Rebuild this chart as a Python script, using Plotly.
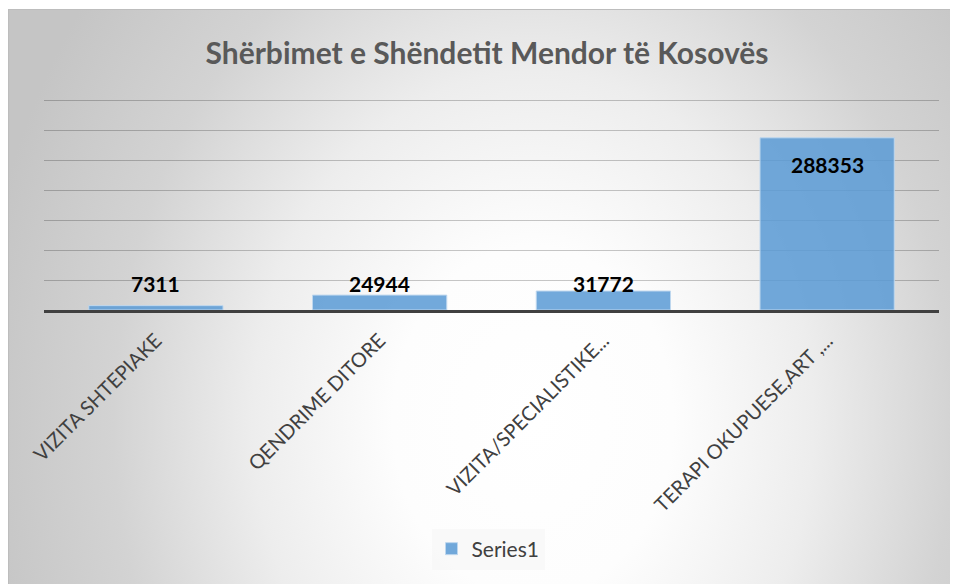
import base64
import plotly.graph_objects as go

# data
categories = ["VIZITA SHTEPIAKE", "QENDRIME DITORE", "VIZITA/SPECIALISTIKE...", "TERAPI OKUPUESE,ART ,..."]
values = [7311, 24944, 31772, 288353]
series_name = "Series1"
title_text = "Shërbimet e Shëndetit Mendor të Kosovës"

# the page puts the figure 8px in from the window corner
OFF = 8
W, H = 950, 576
ML, MR, MT, MB = 36, 19, 90, 274
PW = W - ML - MR
PH = H - MT - MB
LABEL_FONT = dict(family="Lato", size=21, color="black", weight="bold")


def px_to_paper(px, py):
    # page pixel -> paper coordinates of the plot area
    return (px - OFF - ML) / PW, (H - MB - (py - OFF)) / PH


# Excel-like radial grey -> white chart area fill
svg = """<svg xmlns='http://www.w3.org/2000/svg' width='950' height='575' viewBox='0 0 950 575' preserveAspectRatio='none'>
<defs><radialGradient id='g' gradientUnits='userSpaceOnUse' cx='0' cy='0' r='1'
 gradientTransform='translate(525 412) scale(560 700)'>
<stop offset='0' stop-color='#ffffff'/>
<stop offset='0.25' stop-color='#fdfdfd'/>
<stop offset='0.5' stop-color='#ededed'/>
<stop offset='0.75' stop-color='#d3d3d3'/>
<stop offset='1' stop-color='#c5c5c5'/>
</radialGradient></defs>
<rect width='950' height='575' fill='url(#g)'/></svg>"""
bg_src = "data:image/svg+xml;base64," + base64.b64encode(svg.encode()).decode()

bx0, by0 = px_to_paper(8, 9)
bx1, by1 = px_to_paper(958, 584)

inside = [v > 0.5 * max(values) for v in values]

fig = go.Figure()
fig.add_trace(go.Bar(
    x=categories,
    y=values,
    name=series_name,
    marker=dict(color="rgba(91,155,213,0.86)", line=dict(color="rgba(190,215,238,1)", width=1)),
    showlegend=True,
))

# value labels: inside the top of tall bars, just over the baseline for short ones
annotations = []
for c, v, ins in zip(categories, values, inside):
    if ins:
        annotations.append(dict(x=c, y=v, xref="x", yref="y", text=str(v), showarrow=False,
                                yanchor="top", yshift=-12, font=LABEL_FONT))
    else:
        annotations.append(dict(x=c, y=0, xref="x", yref="y", text=str(v), showarrow=False,
                                yanchor="bottom", yshift=12, font=LABEL_FONT))

fig.update_layout(
    width=W, height=H,
    margin=dict(l=ML, r=MR, t=MT, b=MB),
    paper_bgcolor="white",
    plot_bgcolor="rgba(0,0,0,0)",
    bargap=0.4,
    font=dict(family="Lato", color="#404040"),
    title=dict(
        text="<b>" + title_text + "</b>",
        x=(487 - OFF) / W, xref="container", xanchor="center",
        y=1 - (53 - OFF) / H, yref="container", yanchor="middle",
        font=dict(family="Lato", size=30, color="#595959"),
    ),
    xaxis=dict(
        showline=True, linecolor="#404040", linewidth=3,
        showgrid=False, ticks="", tickangle=-45, ticklabelstandoff=8,
        tickfont=dict(family="Lato", size=20, color="#404040"),
    ),
    yaxis=dict(
        range=[0, 355000], dtick=50000, showticklabels=False,
        showgrid=True, gridcolor="rgba(0,0,0,0.22)", gridwidth=1.3, zeroline=False,
    ),
    legend=dict(
        orientation="h", x=px_to_paper(488, 0)[0], xanchor="center",
        y=px_to_paper(0, 549)[1], yanchor="middle",
        bgcolor="rgba(246,246,246,0.7)",
        font=dict(family="Lato", size=21, color="#404040"),
    ),
    annotations=annotations,
    images=[dict(
        source=bg_src, xref="paper", yref="paper",
        x=bx0, y=by0, sizex=bx1 - bx0, sizey=by0 - by1,
        sizing="stretch", layer="below",
    )],
    shapes=[dict(
        type="rect", xref="paper", yref="paper",
        x0=bx0 + 0.5 / PW, y0=by1 - 0.02, x1=bx1 + 0.02, y1=by0 - 0.5 / PH,
        line=dict(color="#bdbdbd", width=1.2),
    )],
)

fig.write_html("out.html")
